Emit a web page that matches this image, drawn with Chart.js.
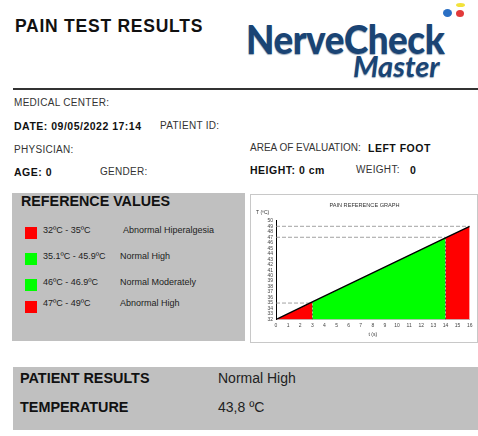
<!DOCTYPE html>
<html>
<head>
<meta charset="utf-8">
<script src="https://cdn.jsdelivr.net/npm/chart.js@4.4.1/dist/chart.umd.min.js"></script>
<style>
  html, body { margin:0; padding:0; background:#fff; }
  body { width:478px; height:436px; position:relative; overflow:hidden; font-family:"Liberation Sans", Arial, sans-serif; color:#222; }
  .t { position:absolute; white-space:nowrap; line-height:1; }
  .lab { font-size:10px; color:#333; letter-spacing:0.3px; }
  .b { font-weight:bold; color:#111; }
  .bs { font-weight:bold; color:#111; font-size:10.5px; letter-spacing:0.5px; }
  .panel { position:absolute; background:#c0c0c0; }
  .sq { position:absolute; width:12px; height:12px; }
</style>
</head>
<body>
<script>
// ---- data ----
const timeTicks = [0,1,2,3,4,5,6,7,8,9,10,11,12,13,14,15,16];
const tempTicks = [32,33,34,35,36,37,38,39,40,41,42,43,44,45,46,47,48,49,50];
const curveTime = [0, 3, 14, 16];
const curveTemp = [32, 35.2, 46.9, 49];
const bandStartIdx = [0, 1, 2];
const bandColors = ['#ff0000', '#00ff00', '#ff0000'];
const refLevels = [35, 47, 49];
const refLevelEnd = [3, 14, 16];
const refRanges = ['32ºC - 35ºC', '35.1ºC - 45.9ºC', '46ºC - 46.9ºC', '47ºC - 49ºC'];
const refLabels = ['Abnormal Hiperalgesia', 'Normal High', 'Normal Moderately', 'Abnormal High'];
const refColors = ['#ff0000', '#00ff00', '#00ff00', '#ff0000'];
</script>

<div class="t b" style="left:15px;top:18px;font-size:17.5px;letter-spacing:0.75px;">PAIN TEST RESULTS</div>

<!-- logo -->
<div class="t" style="left:246px;top:23.5px;line-height:30px;font-family:Lato,'Open Sans',sans-serif;font-weight:900;font-size:40px;color:#1a4474;transform-origin:0 0;transform:scaleX(0.92);text-shadow:0 1px 1px #9ab;letter-spacing:-0.5px;">NerveCheck</div>
<div class="t" style="left:353px;top:55px;line-height:22px;font-family:Lato,'Open Sans',sans-serif;font-weight:bold;font-style:italic;font-size:29px;color:#1a4474;text-shadow:0 1px 1px #9ab;">Master</div>
<div style="position:absolute;left:443px;top:9px;width:9px;height:8px;border-radius:50%;background:#2a6fc4;"></div>
<div style="position:absolute;left:456px;top:10px;width:8px;height:7px;border-radius:50%;background:#e23a3a;"></div>
<div style="position:absolute;left:456px;top:3px;width:9px;height:4px;border-radius:50%;background:#f2e23a;"></div>

<div style="position:absolute;left:13px;top:88px;width:465px;height:2px;background:#333;"></div>

<div class="t lab" style="left:14px;top:98px;">MEDICAL CENTER:</div>
<div class="t bs" style="left:14px;top:121px;">DATE: 09/05/2022 17:14</div>
<div class="t lab" style="left:160px;top:121px;">PATIENT ID:</div>
<div class="t lab" style="left:14px;top:145px;">PHYSICIAN:</div>
<div class="t lab" style="left:250px;top:143px;letter-spacing:0;">AREA OF EVALUATION:</div>
<div class="t bs" style="left:368px;top:142.5px;">LEFT FOOT</div>
<div class="t bs" style="left:14px;top:167px;">AGE: 0</div>
<div class="t lab" style="left:100px;top:167px;">GENDER:</div>
<div class="t bs" style="left:250px;top:165px;">HEIGHT: 0 cm</div>
<div class="t lab" style="left:356px;top:165px;">WEIGHT:</div>
<div class="t bs" style="left:410px;top:164.5px;">0</div>

<div class="panel" style="left:12px;top:193px;width:233px;height:148px;"></div>
<div class="t b" style="left:21px;top:194px;font-size:14.3px;">REFERENCE VALUES</div>
<div id="legend"></div>

<div style="position:absolute;left:250px;top:194px;width:226px;height:147px;border:1px solid #c8c8c8;background:#fff;"></div>
<div style="position:absolute;left:251px;top:195px;width:225px;height:147px;">
  <canvas id="c" width="225" height="147"></canvas>
</div>

<div class="panel" style="left:13px;top:367px;width:465px;height:63px;"></div>
<div class="t b" style="left:20px;top:371px;font-size:14.4px;">PATIENT RESULTS</div>
<div class="t" style="left:218px;top:371px;font-size:14px;color:#222;">Normal High</div>
<div class="t b" style="left:20px;top:400px;font-size:14.4px;">TEMPERATURE</div>
<div class="t" style="left:218px;top:400px;font-size:14px;color:#222;">43,8 ºC</div>

<script>
const rowSq = [227, 253, 279, 301];
const rowTx = [226, 252, 278, 299];
const lg = document.getElementById('legend');
refRanges.forEach((r, i) => {
  lg.insertAdjacentHTML('beforeend',
    `<div class="sq" style="left:25px;top:${rowSq[i]}px;background:${refColors[i]};"></div>` +
    `<div class="t" style="left:43px;top:${rowTx[i]}px;font-size:9px;color:#222;">${r}</div>` +
    `<div class="t" style="left:${i===0?123:120}px;top:${rowTx[i]}px;font-size:9px;color:#222;">${refLabels[i]}</div>`);
});

const pts = curveTime.map((t, i) => ({x: t, y: curveTemp[i]}));
const datasets = [];
datasets.push({ data: pts, borderColor: '#000', borderWidth: 1.4, pointRadius: 0, fill: false });
refLevels.forEach((lv, i) => {
  datasets.push({ data: [{x: timeTicks[0], y: lv}, {x: refLevelEnd[i], y: lv}], borderColor: '#8a8a8a', borderWidth: 0.8, borderDash: [4, 2], pointRadius: 0, fill: false });
});
[1, 2].forEach(i => {
  datasets.push({ data: [{x: curveTime[i], y: tempTicks[0]}, {x: curveTime[i], y: curveTemp[i]}], borderColor: '#333', borderWidth: 0.8, borderDash: [2, 2], pointRadius: 0, fill: false });
});
bandStartIdx.forEach((s, i) => {
  datasets.push({ data: [pts[s], pts[s + 1]], borderColor: 'rgba(0,0,0,0)', borderWidth: 0, backgroundColor: bandColors[i], pointRadius: 0, fill: 'start' });
});

const tickFont = { family: "'Liberation Sans', Arial, sans-serif", size: 5 };
new Chart(document.getElementById('c'), {
  type: 'line',
  data: { datasets },
  options: {
    responsive: false, animation: false, events: [],
    layout: { padding: { left: 5, right: 3, top: 0, bottom: 0 } },
    plugins: {
      legend: { display: false }, tooltip: { enabled: false },
      title: { display: true, text: 'PAIN REFERENCE GRAPH', color: '#333', font: { family: tickFont.family, size: 5.6, weight: 'normal' }, padding: { top: 6.7, bottom: 0 } },
      subtitle: { display: true, text: 'T (ºC)', align: 'start', color: '#333', font: { family: tickFont.family, size: 5 }, padding: { top: 1.7, bottom: 4.7 } }
    },
    scales: {
      x: { type: 'linear', min: timeTicks[0], max: timeTicks[timeTicks.length - 1],
        afterFit: s => { s.height = 22.5; },
        afterBuildTicks: s => { s.ticks = timeTicks.map(v => ({ value: v })); },
        ticks: { font: tickFont, color: '#444', padding: 3.5, maxRotation: 0, autoSkip: false },
        grid: { display: false, drawTicks: false },
        border: { color: '#999', width: 0.6 },
        title: { display: true, text: 't (s)', color: '#333', font: { family: tickFont.family, size: 5 }, padding: { top: 0, bottom: 4.5 } } },
      y: { type: 'linear', min: tempTicks[0], max: tempTicks[tempTicks.length - 1],
        afterFit: s => { s.width = 20; },
        afterBuildTicks: s => { s.ticks = tempTicks.map(v => ({ value: v })); },
        ticks: { font: tickFont, color: '#444', padding: 3, autoSkip: false },
        grid: { display: false, drawTicks: false },
        border: { color: '#000', width: 1 } }
    }
  }
});
</script>
</body>
</html>
